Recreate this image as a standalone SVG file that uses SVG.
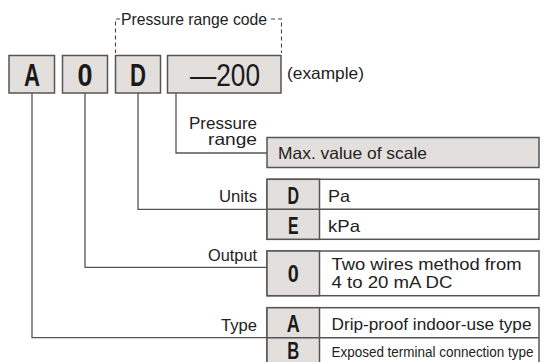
<svg xmlns="http://www.w3.org/2000/svg" width="549" height="362" viewBox="0 0 549 362">
  <style>
    .box { fill: #e3dfdc; stroke: #555; stroke-width: 1.5; }
    .wbox { fill: #ffffff; stroke: #555; stroke-width: 1.5; }
    .ln { fill: none; stroke: #555; stroke-width: 1.3; }
    .dash { fill: none; stroke: #444; stroke-width: 1.1; stroke-dasharray: 4 3; }
    .big { font-family: "Liberation Sans", Arial, sans-serif; font-size: 31px; font-weight: bold; fill: #1a1a1a; text-anchor: middle; }
    .cell { font-family: "Liberation Sans", Arial, sans-serif; font-size: 24px; font-weight: bold; fill: #1a1a1a; text-anchor: middle; }
    .lbl { font-family: "Liberation Sans", Arial, sans-serif; font-size: 16.5px; fill: #222; }
    .r { text-anchor: end; }
  </style>
  <rect width="549" height="362" fill="#ffffff"/>

  <!-- code boxes -->
  <g id="code-A">
    <rect class="box" x="9" y="55.5" width="45.5" height="37.5"/>
    <text class="big" x="32" y="86" textLength="16" lengthAdjust="spacingAndGlyphs">A</text>
  </g>
  <g id="code-0">
    <rect class="box" x="62.5" y="55.5" width="45" height="37.5"/>
    <text class="big" x="85" y="86" textLength="15" lengthAdjust="spacingAndGlyphs">0</text>
  </g>
  <g id="code-D">
    <rect class="box" x="115.5" y="55.5" width="45" height="37.5"/>
    <text class="big" x="138" y="86" textLength="16" lengthAdjust="spacingAndGlyphs">D</text>
  </g>
  <g id="code-200">
    <rect class="box" x="167.5" y="55.5" width="113.5" height="37.5"/>
    <text class="big" x="225" y="86" textLength="70" lengthAdjust="spacingAndGlyphs" style="font-weight:normal">—200</text>
  </g>
  <g id="example">
    <text class="lbl" x="287" y="79" textLength="77" lengthAdjust="spacingAndGlyphs">(example)</text>
  </g>

  <!-- pressure range code bracket -->
  <g id="pressure-range-code">
    <path class="dash" d="M120 19 H115.5 V53"/>
    <path class="dash" d="M271 19 H281.5 V53"/>
    <text class="lbl" x="121" y="25" textLength="146" lengthAdjust="spacingAndGlyphs">Pressure range code</text>
  </g>

  <!-- connectors -->
  <g id="connectors">
    <path class="ln" d="M176 93 V153 H267"/>
    <path class="ln" d="M138 93 V209.3 H267"/>
    <path class="ln" d="M85 93 V267.3 H267"/>
    <path class="ln" d="M32 93 V337.7 H267"/>
  </g>

  <!-- pressure range -->
  <g id="pressure-range">
    <text class="lbl r" x="257" y="128.5" textLength="68" lengthAdjust="spacingAndGlyphs">Pressure</text>
    <text class="lbl r" x="257" y="145" textLength="49" lengthAdjust="spacingAndGlyphs">range</text>
    <rect class="box" x="267" y="137.5" width="272" height="30"/>
    <text class="lbl" x="278" y="159" textLength="149" lengthAdjust="spacingAndGlyphs">Max. value of scale</text>
  </g>

  <!-- units -->
  <g id="units">
    <text class="lbl r" x="257" y="202" textLength="38" lengthAdjust="spacingAndGlyphs">Units</text>
    <rect class="wbox" x="267" y="179.3" width="272" height="60"/>
    <rect class="box" x="267" y="179.3" width="52.5" height="60"/>
    <line class="ln" x1="267" y1="209.3" x2="539" y2="209.3" style="stroke-width:1.5"/>
    <text class="cell" x="293.3" y="203.5" textLength="11.5" lengthAdjust="spacingAndGlyphs">D</text>
    <text class="cell" x="293.3" y="233.5" textLength="10.5" lengthAdjust="spacingAndGlyphs">E</text>
    <text class="lbl" x="328" y="201.5" textLength="22" lengthAdjust="spacingAndGlyphs">Pa</text>
    <text class="lbl" x="328" y="231.5" textLength="32" lengthAdjust="spacingAndGlyphs">kPa</text>
  </g>

  <!-- output -->
  <g id="output">
    <text class="lbl r" x="257" y="261" textLength="49" lengthAdjust="spacingAndGlyphs">Output</text>
    <rect class="wbox" x="267" y="251" width="272" height="44.7"/>
    <rect class="box" x="267" y="251" width="52.5" height="44.7"/>
    <text class="cell" x="293.3" y="282" textLength="11" lengthAdjust="spacingAndGlyphs">0</text>
    <text class="lbl" x="331.5" y="270" textLength="190" lengthAdjust="spacingAndGlyphs">Two wires method from</text>
    <text class="lbl" x="331.5" y="288" textLength="121" lengthAdjust="spacingAndGlyphs">4 to 20 mA DC</text>
  </g>

  <!-- type -->
  <g id="type">
    <text class="lbl r" x="257" y="331" textLength="36" lengthAdjust="spacingAndGlyphs">Type</text>
    <rect class="wbox" x="267" y="307.7" width="272" height="60"/>
    <rect class="box" x="267" y="307.7" width="52.5" height="60"/>
    <line class="ln" x1="267" y1="337.7" x2="539" y2="337.7" style="stroke-width:1.5"/>
    <text class="cell" x="293.3" y="331.5" textLength="13" lengthAdjust="spacingAndGlyphs">A</text>
    <text class="cell" x="293.3" y="358.5" style="font-size:23px" textLength="12" lengthAdjust="spacingAndGlyphs">B</text>
    <text class="lbl" x="331.5" y="330" textLength="200" lengthAdjust="spacingAndGlyphs">Drip-proof indoor-use type</text>
    <text class="lbl" x="331.5" y="357" style="font-size:15px" textLength="202" lengthAdjust="spacingAndGlyphs">Exposed terminal connection type</text>
  </g>
</svg>
